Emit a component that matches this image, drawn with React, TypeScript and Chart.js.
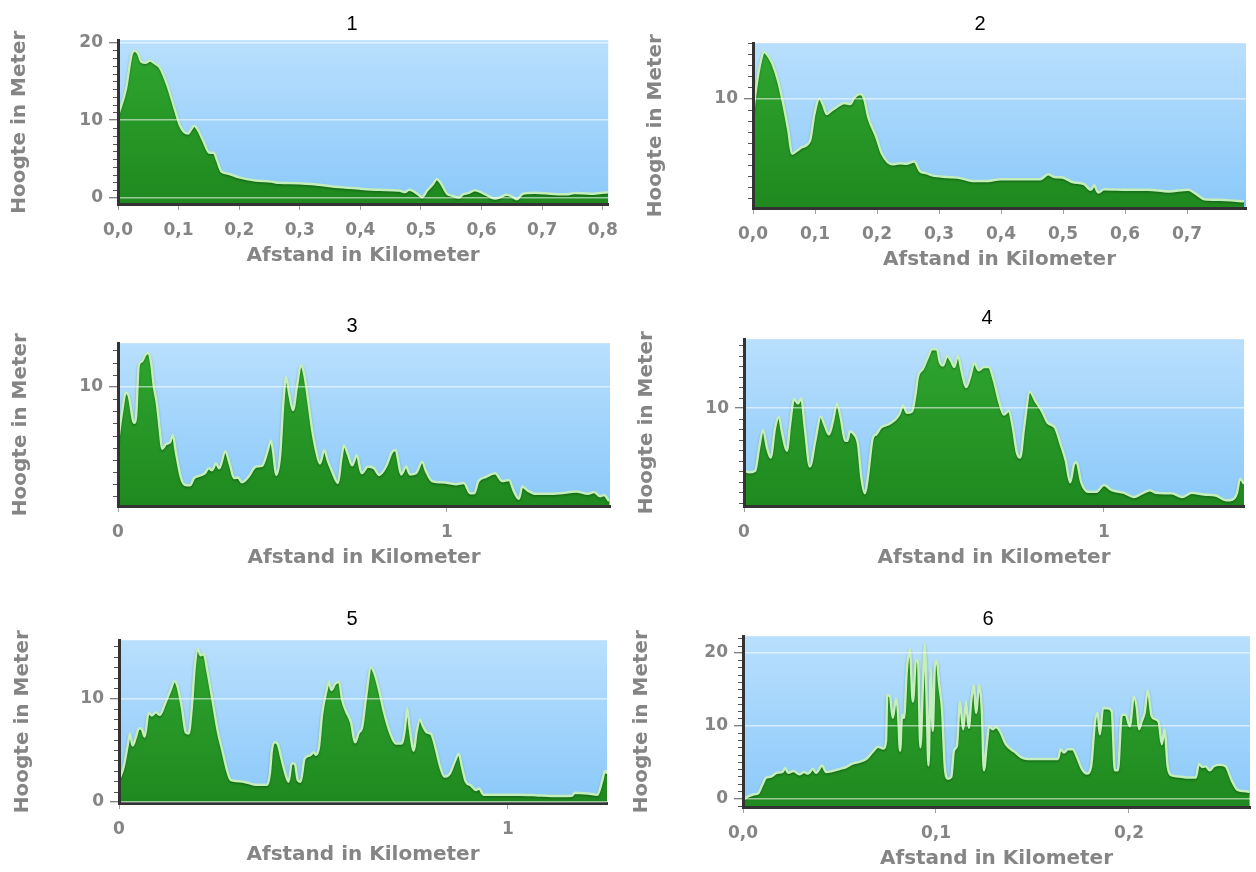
import React, { useEffect, useRef } from 'react';
import { Chart, registerables } from 'chart.js';

Chart.register(...registerables);

// ---------- data (distance in km, elevation in m) ----------
const dist1 = [0, 0.013, 0.023, 0.028, 0.033, 0.039, 0.046, 0.053, 0.059, 0.069, 0.082, 0.095, 0.102, 0.109, 0.116, 0.12, 0.126, 0.132, 0.141, 0.151, 0.158, 0.164, 0.171, 0.181, 0.2, 0.227, 0.253, 0.266, 0.299, 0.332, 0.365, 0.398, 0.431, 0.464, 0.474, 0.48, 0.487, 0.497, 0.502, 0.51, 0.52, 0.526, 0.533, 0.543, 0.553, 0.563, 0.569, 0.579, 0.589, 0.599, 0.609, 0.622, 0.632, 0.641, 0.65, 0.658, 0.668, 0.688, 0.714, 0.74, 0.753, 0.78, 0.799, 0.809];
const elev1 = [10.6, 14.0, 18.6, 18.95, 18.6, 17.5, 17.4, 17.7, 17.4, 16.8, 14.4, 11.1, 9.4, 8.5, 8.3, 8.75, 9.3, 8.75, 7.3, 5.8, 5.8, 4.75, 3.4, 3.15, 2.65, 2.25, 2.1, 1.95, 1.9, 1.7, 1.4, 1.2, 1.05, 0.95, 0.75, 1.05, 0.9, 0.35, 0.1, 0.95, 1.8, 2.45, 1.9, 0.55, 0.25, 0.05, 0.45, 0.65, 1.0, 0.75, 0.35, -0.08, 0.13, 0.42, 0.2, -0.17, 0.55, 0.67, 0.55, 0.46, 0.63, 0.55, 0.67, 0.72];

const dist2 = [0, 0.005, 0.013, 0.018, 0.025, 0.031, 0.041, 0.05, 0.057, 0.063, 0.07, 0.079, 0.092, 0.099, 0.107, 0.113, 0.119, 0.125, 0.134, 0.147, 0.157, 0.163, 0.173, 0.179, 0.186, 0.199, 0.208, 0.225, 0.237, 0.247, 0.26, 0.27, 0.279, 0.289, 0.315, 0.334, 0.354, 0.379, 0.399, 0.425, 0.463, 0.476, 0.486, 0.499, 0.515, 0.534, 0.545, 0.55, 0.557, 0.566, 0.605, 0.637, 0.67, 0.702, 0.715, 0.728, 0.754, 0.779, 0.792];
const elev2 = [8.6, 10.95, 13.5, 14.2, 13.8, 13.2, 11.5, 9.2, 7.1, 5.0, 5.25, 5.6, 6.2, 8.6, 10.0, 9.45, 8.6, 8.85, 9.2, 9.6, 9.5, 10.05, 10.4, 10.05, 8.3, 6.5, 5.0, 4.05, 4.15, 4.1, 4.3, 3.4, 3.25, 3.05, 2.9, 2.8, 2.55, 2.55, 2.7, 2.7, 2.7, 3.15, 2.9, 2.85, 2.45, 2.25, 1.75, 2.15, 1.5, 1.8, 1.75, 1.75, 1.6, 1.75, 1.35, 0.9, 0.85, 0.75, 0.7];

const dist3 = [0, 0.012, 0.024, 0.033, 0.049, 0.055, 0.063, 0.073, 0.082, 0.091, 0.101, 0.109, 0.118, 0.128, 0.134, 0.146, 0.158, 0.167, 0.176, 0.191, 0.203, 0.219, 0.231, 0.249, 0.264, 0.276, 0.286, 0.298, 0.308, 0.326, 0.341, 0.353, 0.365, 0.377, 0.395, 0.42, 0.438, 0.454, 0.465, 0.472, 0.481, 0.493, 0.502, 0.511, 0.521, 0.532, 0.544, 0.556, 0.566, 0.578, 0.59, 0.602, 0.614, 0.627, 0.639, 0.651, 0.669, 0.679, 0.687, 0.7, 0.712, 0.726, 0.741, 0.76, 0.779, 0.794, 0.815, 0.833, 0.845, 0.851, 0.861, 0.876, 0.888, 0.906, 0.925, 0.937, 0.955, 0.979, 1.004, 1.028, 1.052, 1.071, 1.083, 1.095, 1.119, 1.147, 1.168, 1.189, 1.204, 1.219, 1.229, 1.247, 1.271, 1.308, 1.344, 1.393, 1.429, 1.448, 1.466, 1.478, 1.493];
const elev3 = [5.45, 7.9, 9.55, 9.25, 7.05, 7.6, 11.8, 12.1, 12.6, 12.8, 11.95, 10.05, 8.7, 6.25, 4.9, 5.3, 5.45, 6.05, 4.65, 2.6, 1.95, 1.9, 2.5, 2.7, 2.9, 3.3, 3.15, 3.7, 3.3, 4.7, 3.55, 2.5, 2.55, 2.15, 2.55, 3.45, 3.5, 4.65, 5.6, 4.65, 2.75, 4.4, 8.45, 10.85, 9.4, 8.1, 10.05, 11.8, 11.1, 8.95, 6.55, 4.8, 3.7, 4.8, 3.85, 3.05, 2.1, 4.1, 5.2, 4.4, 3.55, 4.4, 2.9, 3.45, 3.3, 2.75, 3.45, 4.65, 4.8, 4.1, 2.8, 3.45, 2.8, 2.9, 3.85, 3.05, 2.25, 2.15, 2.1, 2.0, 2.1, 1.25, 1.25, 2.2, 2.6, 2.9, 2.25, 2.35, 1.4, 0.8, 1.8, 1.45, 1.2, 1.2, 1.25, 1.4, 1.2, 1.35, 1.0, 1.1, 0.6];

const dist4 = [0, 0.014, 0.031, 0.042, 0.053, 0.064, 0.074, 0.086, 0.097, 0.106, 0.119, 0.128, 0.139, 0.15, 0.159, 0.169, 0.183, 0.198, 0.213, 0.224, 0.236, 0.247, 0.258, 0.269, 0.281, 0.287, 0.294, 0.306, 0.317, 0.326, 0.336, 0.344, 0.358, 0.367, 0.38, 0.4, 0.42, 0.431, 0.442, 0.453, 0.467, 0.476, 0.483, 0.497, 0.511, 0.522, 0.536, 0.544, 0.553, 0.564, 0.576, 0.584, 0.594, 0.606, 0.617, 0.628, 0.64, 0.652, 0.667, 0.68, 0.694, 0.709, 0.722, 0.736, 0.747, 0.758, 0.767, 0.778, 0.794, 0.811, 0.828, 0.844, 0.864, 0.88, 0.894, 0.906, 0.917, 0.924, 0.937, 0.956, 0.978, 1.0, 1.022, 1.056, 1.083, 1.106, 1.128, 1.144, 1.189, 1.217, 1.244, 1.278, 1.311, 1.339, 1.356, 1.369, 1.378, 1.389];
const elev4 = [4.1, 3.9, 4.05, 6.25, 7.95, 6.25, 5.3, 8.1, 9.2, 7.65, 5.95, 8.45, 10.9, 10.45, 10.95, 8.15, 4.45, 6.9, 9.2, 8.4, 7.5, 8.75, 10.45, 9.05, 6.9, 6.9, 7.8, 7.5, 6.55, 3.45, 1.9, 3.45, 7.2, 7.5, 8.15, 8.45, 8.9, 9.4, 10.25, 9.55, 9.7, 11.25, 12.95, 13.75, 14.85, 15.6, 15.6, 14.4, 14.05, 14.95, 14.45, 13.9, 15.0, 13.3, 12.0, 12.95, 14.3, 13.6, 13.9, 13.9, 12.65, 10.6, 9.4, 9.75, 8.15, 5.8, 5.3, 8.15, 11.55, 10.6, 9.7, 8.6, 8.15, 6.55, 5.0, 2.95, 4.7, 4.85, 2.95, 2.05, 2.05, 2.7, 2.2, 1.95, 1.55, 1.9, 2.2, 1.95, 1.9, 1.55, 1.95, 1.8, 1.7, 1.25, 1.3, 1.9, 3.3, 2.8];

const dist5 = [0, 0.012, 0.023, 0.028, 0.035, 0.043, 0.051, 0.059, 0.066, 0.076, 0.084, 0.095, 0.105, 0.117, 0.131, 0.143, 0.151, 0.162, 0.172, 0.179, 0.187, 0.195, 0.203, 0.21, 0.218, 0.228, 0.241, 0.254, 0.267, 0.278, 0.288, 0.311, 0.331, 0.352, 0.381, 0.388, 0.393, 0.401, 0.408, 0.419, 0.429, 0.436, 0.444, 0.452, 0.46, 0.467, 0.477, 0.491, 0.501, 0.506, 0.514, 0.522, 0.533, 0.54, 0.546, 0.556, 0.566, 0.574, 0.584, 0.597, 0.607, 0.617, 0.625, 0.635, 0.648, 0.656, 0.667, 0.681, 0.697, 0.712, 0.727, 0.735, 0.741, 0.748, 0.758, 0.765, 0.774, 0.782, 0.792, 0.803, 0.815, 0.825, 0.837, 0.851, 0.863, 0.874, 0.882, 0.892, 0.905, 0.918, 0.926, 0.938, 0.969, 1.031, 1.072, 1.113, 1.165, 1.172, 1.206, 1.23, 1.242, 1.25, 1.255];
const elev5 = [2.1, 3.4, 5.6, 6.6, 5.45, 6.2, 7.1, 7.0, 6.3, 8.6, 8.35, 8.65, 8.4, 9.35, 10.65, 11.65, 11.1, 9.05, 6.7, 6.6, 9.05, 13.15, 14.75, 14.15, 14.25, 12.5, 9.7, 6.85, 4.8, 3.05, 2.1, 2.0, 1.85, 1.65, 1.65, 2.75, 4.95, 5.75, 5.6, 4.0, 2.6, 1.95, 3.7, 3.7, 2.1, 1.95, 4.15, 4.5, 4.8, 4.55, 5.25, 8.4, 10.65, 11.6, 10.8, 11.4, 11.6, 9.85, 8.75, 7.65, 5.75, 6.7, 7.15, 10.0, 13.0, 12.5, 11.1, 8.75, 6.7, 5.65, 5.65, 7.0, 9.05, 7.0, 4.95, 6.7, 7.95, 7.3, 6.7, 6.55, 5.1, 3.55, 2.45, 2.75, 3.85, 4.65, 3.4, 1.95, 1.6, 1.15, 1.3, 0.7, 0.7, 0.7, 0.65, 0.57, 0.6, 0.9, 0.82, 0.7, 1.95, 3.0, 2.75];

const dist6 = [0, 0.0027, 0.0058, 0.0079, 0.0099, 0.012, 0.0141, 0.0155, 0.0176, 0.0203, 0.0219, 0.0234, 0.0261, 0.0292, 0.0317, 0.0337, 0.0362, 0.0379, 0.041, 0.0431, 0.0462, 0.0503, 0.0534, 0.0565, 0.0607, 0.0638, 0.0669, 0.07, 0.0727, 0.0741, 0.0747, 0.0762, 0.0776, 0.0793, 0.0803, 0.0814, 0.0824, 0.0834, 0.0849, 0.0865, 0.088, 0.0896, 0.0907, 0.0919, 0.0932, 0.0942, 0.0952, 0.0961, 0.0973, 0.0983, 0.0994, 0.1004, 0.1017, 0.1031, 0.1046, 0.1062, 0.1079, 0.1093, 0.1108, 0.1124, 0.1141, 0.1155, 0.117, 0.1182, 0.1197, 0.1207, 0.1224, 0.1238, 0.1248, 0.1263, 0.1275, 0.1294, 0.131, 0.1331, 0.1362, 0.1389, 0.1414, 0.1441, 0.1476, 0.1559, 0.1631, 0.1646, 0.1663, 0.1683, 0.1708, 0.1735, 0.1756, 0.1782, 0.1803, 0.1824, 0.1838, 0.1849, 0.1865, 0.189, 0.1911, 0.1927, 0.1942, 0.1963, 0.1983, 0.2004, 0.2025, 0.2041, 0.2052, 0.2066, 0.2081, 0.2097, 0.2118, 0.2139, 0.2155, 0.217, 0.2184, 0.2201, 0.2222, 0.2263, 0.2304, 0.2346, 0.2362, 0.2381, 0.2398, 0.2418, 0.2439, 0.247, 0.2501, 0.2532, 0.2563, 0.2594, 0.2625];
const elev6 = [-0.15, 0.25, 0.55, 0.7, 1.8, 2.85, 2.95, 3.15, 3.5, 3.6, 4.15, 3.5, 3.75, 3.3, 3.6, 3.4, 4.05, 3.5, 4.5, 3.6, 3.75, 4.05, 4.3, 4.75, 5.05, 5.4, 6.3, 7.1, 6.85, 7.9, 14.2, 14.0, 11.05, 13.75, 11.95, 6.55, 11.5, 11.05, 17.8, 20.5, 13.3, 18.95, 18.95, 7.0, 15.6, 21.2, 13.3, 4.5, 17.8, 9.25, 18.3, 18.95, 15.6, 12.4, 4.3, 2.7, 2.95, 6.55, 7.2, 13.3, 9.5, 13.3, 9.7, 13.3, 15.6, 11.75, 15.6, 11.95, 3.85, 7.45, 9.9, 9.5, 9.8, 9.25, 7.45, 6.75, 6.25, 5.65, 5.4, 5.4, 5.4, 6.75, 6.3, 6.75, 6.75, 5.4, 4.05, 3.4, 4.3, 10.6, 11.75, 8.8, 12.4, 12.4, 11.95, 3.85, 3.85, 11.5, 11.5, 9.9, 14.0, 12.4, 9.5, 10.6, 11.75, 14.9, 11.3, 10.85, 10.4, 7.45, 9.5, 4.3, 3.15, 3.0, 2.85, 2.85, 4.75, 4.3, 4.4, 3.85, 4.4, 4.6, 4.4, 2.5, 1.15, 1.0, 0.9];

const chartTitles = ['1', '2', '3', '4', '5', '6'];
const xAxisTitle = 'Afstand in Kilometer';
const yAxisTitle = 'Hoogte in Meter';

const distances = [dist1, dist2, dist3, dist4, dist5, dist6];
const elevations = [elev1, elev2, elev3, elev4, elev5, elev6];

// axis ranges and tick steps
const xMaxs = [0.809, 0.795, 1.496, 1.389, 1.255, 0.2627];
const xSteps = [0.1, 0.1, 1, 1, 1, 0.1];
const yMins = [-0.78, 0.1, 0.2, 0.7, -0.1, -1.2];
const yMaxs = [20.3, 15.0, 13.6, 16.55, 15.6, 22.3];
const yMajorStep = 10;

// ---------- layout (page pixels) ----------
const layouts = [
  { l: 118, t: 38, r: 610, b: 204, col: 0, yt: 20, tx: 352, ty: 23 },
  { l: 753, t: 41, r: 1246, b: 208, col: 628, yt: 656, tx: 980, ty: 23 },
  { l: 118, t: 341, r: 610, b: 506, col: 0, yt: 21, tx: 352, ty: 325 },
  { l: 744, t: 337, r: 1244, b: 506, col: 628, yt: 647, tx: 987, ty: 317 },
  { l: 119, t: 638, r: 607, b: 803, col: 0, yt: 23, tx: 352, ty: 618 },
  { l: 743, t: 634, r: 1250, b: 807, col: 628, yt: 642, tx: 988, ty: 618 },
];

const TOP_PAD = 14;
const X_AXIS_H = 66;
const AXIS_GRAY = '#858585';
const FONT = 'DejaVu Sans, Verdana, sans-serif';

const plotBgPlugin = {
  id: 'plotBg',
  beforeDraw(chart: any) {
    const { ctx, chartArea: a } = chart;
    if (!a) return;
    const g = ctx.createLinearGradient(0, a.top, 0, a.bottom);
    g.addColorStop(0, '#b9dffd');
    g.addColorStop(1, '#8bc9fa');
    ctx.save();
    ctx.fillStyle = g;
    ctx.fillRect(a.left, a.top, a.right - a.left, a.bottom - a.top);
    ctx.restore();
  },
};

const lineShadowPlugin = {
  id: 'lineShadow',
  beforeDatasetDraw(chart: any) {
    const ctx = chart.ctx;
    ctx.save();
    ctx.shadowColor = 'rgba(0,40,0,0.35)';
    ctx.shadowBlur = 2;
    ctx.shadowOffsetY = 1.5;
  },
  afterDatasetDraw(chart: any) {
    chart.ctx.restore();
  },
};

const minorTicksPlugin = {
  id: 'minorTicks',
  afterDraw(chart: any) {
    const y = chart.scales.y;
    const { ctx, chartArea: a } = chart;
    ctx.save();
    ctx.strokeStyle = '#555';
    ctx.lineWidth = 1;
    for (let v = Math.ceil(y.min); v <= Math.floor(y.max); v++) {
      if (v % yMajorStep === 0) continue;
      const py = Math.round(y.getPixelForValue(v)) + 0.5;
      ctx.beginPath();
      ctx.moveTo(a.left - 5, py);
      ctx.lineTo(a.left - 1, py);
      ctx.stroke();
    }
    ctx.restore();
  },
};

function ElevationChart({ i }: { i: number }) {
  const ref = useRef<HTMLCanvasElement>(null);
  const p = layouts[i];
  const canvasTop = p.t - TOP_PAD;
  const canvasH = p.b + X_AXIS_H - canvasTop;

  useEffect(() => {
    const yLo = yMins[i];
    const yHi = yMaxs[i];
    const xHi = xMaxs[i];
    const step = xSteps[i];
    const data = distances[i].map((x, k) => ({ x, y: elevations[i][k] }));

    const chart = new Chart(ref.current as HTMLCanvasElement, {
      type: 'line',
      data: {
        datasets: [
          {
            data,
            fill: 'start',
            borderColor: '#c4eebb',
            borderWidth: 2.5,
            pointRadius: 0,
            cubicInterpolationMode: 'monotone',
            backgroundColor: (c: any) => {
              const a = c.chart.chartArea;
              if (!a) return '#2a9d2a';
              const g = c.chart.ctx.createLinearGradient(0, a.top, 0, a.bottom);
              g.addColorStop(0, '#2fa62f');
              g.addColorStop(1, '#1f891f');
              return g;
            },
          } as any,
        ],
      },
      options: {
        responsive: false,
        animation: false,
        events: [],
        layout: { padding: { left: 0, top: TOP_PAD, right: p.col + 628 - p.r, bottom: 0 } },
        plugins: {
          legend: { display: false },
          tooltip: { enabled: false },
          title: { display: false },
        },
        scales: {
          x: {
            type: 'linear',
            min: 0,
            max: xHi,
            afterFit: (s: any) => {
              s.height = X_AXIS_H;
            },
            afterBuildTicks: (s: any) => {
              const ticks: any[] = [];
              for (let k = 0; k * step <= xHi + 1e-9; k++) {
                ticks.push({ value: Math.round(k * step * 1000) / 1000 });
              }
              s.ticks = ticks;
            },
            ticks: {
              autoSkip: false,
              maxRotation: 0,
              padding: 10,
              color: AXIS_GRAY,
              font: { family: FONT, size: 17, weight: 'bold', lineHeight: 1.2 },
              callback: (v: any) =>
                step < 1 ? Number(v).toFixed(1).replace('.', ',') : String(Math.round(Number(v))),
            },
            grid: {
              drawOnChartArea: false,
              drawTicks: true,
              tickLength: 6,
              tickColor: '#a0a0a0',
              lineWidth: 1,
            },
            border: { display: true, color: '#333', width: 3, z: 1 },
            title: {
              display: true,
              text: xAxisTitle,
              color: AXIS_GRAY,
              font: { family: FONT, size: 20, weight: 'bold', lineHeight: 1.2 },
              padding: { top: 0, bottom: 2 },
            },
          },
          y: {
            type: 'linear',
            min: yLo,
            max: yHi,
            afterFit: (s: any) => {
              s.width = p.l - p.col;
            },
            afterBuildTicks: (s: any) => {
              const ticks: any[] = [];
              for (let v = Math.ceil(yLo / yMajorStep) * yMajorStep; v <= yHi; v += yMajorStep) {
                ticks.push({ value: v });
              }
              s.ticks = ticks;
            },
            ticks: {
              padding: 6,
              color: AXIS_GRAY,
              font: { family: FONT, size: 17, weight: 'bold', lineHeight: 1.2 },
              callback: (v: any) => String(v),
            },
            grid: {
              z: 1,
              color: 'rgba(255,255,255,0.55)',
              lineWidth: 1.5,
              drawTicks: true,
              tickLength: 9,
              tickColor: '#555',
              tickWidth: 1,
            },
            border: { display: true, color: '#333', width: 3, z: 1 },
            title: {
              display: true,
              text: yAxisTitle,
              color: AXIS_GRAY,
              font: { family: FONT, size: 20, weight: 'bold', lineHeight: 1.2 },
              padding: { top: p.yt - p.col - 12, bottom: 0 },
            },
          },
        },
      } as any,
      plugins: [plotBgPlugin, lineShadowPlugin, minorTicksPlugin],
    });
    return () => chart.destroy();
  }, [i]);

  return (
    <canvas
      ref={ref}
      width={628}
      height={canvasH}
      style={{ position: 'absolute', left: p.col, top: canvasTop, width: 628, height: canvasH }}
    />
  );
}

export default function App() {
  return (
    <div style={{ position: 'absolute', left: 0, top: 0, width: 1256, height: 872, background: '#fff' }}>
      {layouts.map((p, i) => (
        <ElevationChart key={i} i={i} />
      ))}
      {layouts.map((p, i) => (
        <div
          key={'t' + i}
          style={{
            position: 'absolute',
            left: p.tx,
            top: p.ty,
            transform: 'translate(-50%, -50%)',
            fontFamily: 'Liberation Sans, Arial, sans-serif',
            fontSize: 20,
            lineHeight: 1,
            color: '#000',
          }}
        >
          {chartTitles[i]}
        </div>
      ))}
    </div>
  );
}
